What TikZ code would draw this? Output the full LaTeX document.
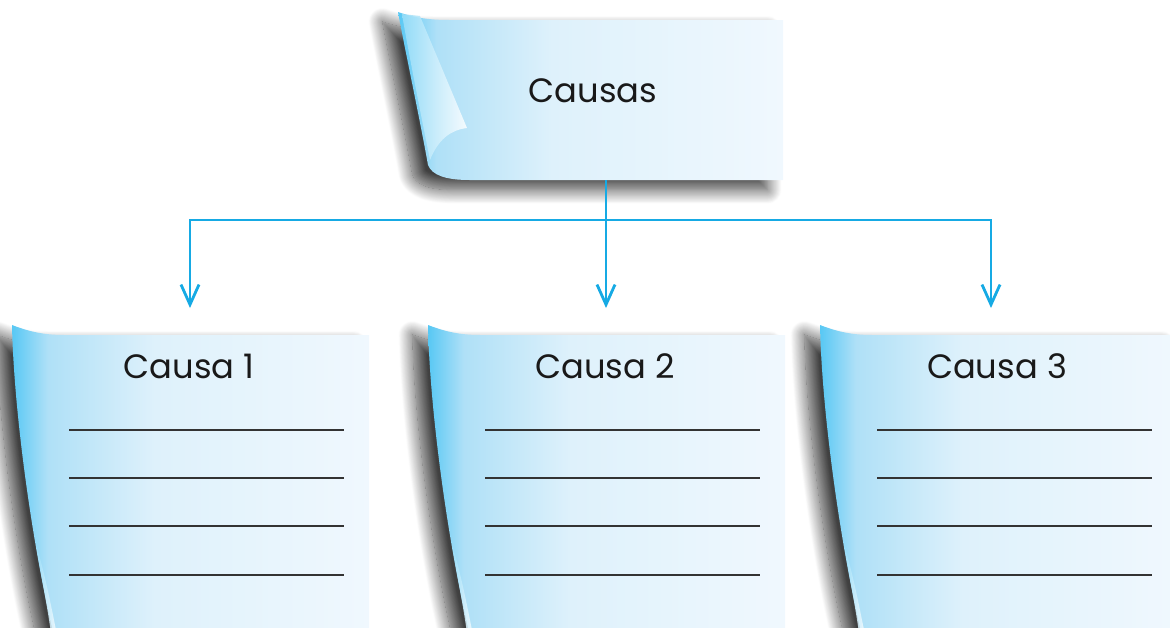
\documentclass[tikz,border=0pt]{standalone}
\usepackage{fontspec}
\setmainfont{Poppins}
\usetikzlibrary{arrows.meta, shadows.blur}

\definecolor{causeblue}{RGB}{22,170,228}
\definecolor{paperA}{RGB}{88,200,244}
\definecolor{paperB}{RGB}{175,224,247}
\definecolor{paperC}{RGB}{222,241,251}
\definecolor{paperD}{RGB}{240,248,254}
\pgfdeclarehorizontalshading{paper}{100bp}{color(0bp)=(paperA); color(25bp)=(paperA);
  color(30bp)=(paperB); color(45bp)=(paperC); color(75bp)=(paperD); color(100bp)=(paperD)}

\begin{document}
\begin{tikzpicture}[x=0.025cm, y=-0.025cm,
  card/.style={shading=paper, blur shadow={shadow xshift=-11pt, shadow yshift=-7pt,
    shadow blur radius=10pt, shadow blur steps=20, shadow opacity=75}},
  curl/.style={left color=paperA!60, right color=white, opacity=.85},
  link/.style={draw=causeblue, line width=2pt},
  rule/.style={draw=black!80, line width=1pt},
  label/.style={font=\fontsize{24}{28}\selectfont, text=black!90}]

\useasboundingbox (0,0) rectangle (1170,627);
\clip (0,0) rectangle (1170,627);

% Hoja de arriba
\path[card] (398,12) .. controls (415,18) and (430,20) .. (450,20) -- (783,20)
  -- (783,180) -- (470,180) .. controls (445,180) and (432,175) .. (428,165)
  .. controls (420,120) and (405,50) .. (398,12) -- cycle;
\path[curl] (402,14) -- (420,16) -- (467,128) .. controls (450,130) and (438,140) .. (430,160)
  .. controls (420,110) and (408,50) .. (402,14) -- cycle;
\node[label] (causas) at (593,91) {Causas};
\coordinate (topfoot) at (606,180);

% Hojas de abajo
\foreach \dx/\n in {0/1, 416/2, 808/3} {
  \begin{scope}[shift={(\dx,0)}]
    \path[card] (12,325) .. controls (30,332) and (45,335) .. (65,335) -- (369,335)
      -- (369,640) -- (55,640) .. controls (35,560) and (14,420) .. (12,325) -- cycle;
    \path[curl] (36,545) .. controls (42,580) and (48,610) .. (52,640) -- (58,640)
      .. controls (50,600) and (44,570) .. (36,545) -- cycle;
    \node[label] (causa\n) at (189,366) {Causa \n};
    \foreach \ly in {430,478,526,575}
      \draw[rule] (69,\ly) -- (344,\ly);
  \end{scope}
}

% Flechas
\coordinate (split) at (606,220);
\coordinate (tip1) at (190,308);
\coordinate (tip2) at (606,308);
\coordinate (tip3) at (991,308);
\draw[link] (topfoot) -- (split);
\foreach \t in {tip1, tip2, tip3}
  \draw[link, -{Straight Barb[length=5mm, width=4.5mm]}] (split) -| (\t);

\end{tikzpicture}
\end{document}
